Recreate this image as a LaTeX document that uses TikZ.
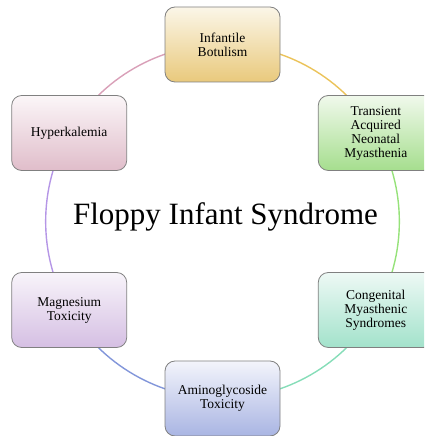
\documentclass[tikz,border=0pt]{standalone}
\usepackage{fontspec}
\setmainfont{Liberation Serif}
\usepackage{tikz}
\usetikzlibrary{calc,backgrounds}
\usepackage{xcolor}
\definecolor{botTop}{HTML}{FBF6E8}
\definecolor{botBot}{HTML}{E9C97C}
\definecolor{tranTop}{HTML}{F0F9EC}
\definecolor{tranBot}{HTML}{A6DE8E}
\definecolor{hypTop}{HTML}{FBF6F8}
\definecolor{hypBot}{HTML}{E0BDCA}
\definecolor{conTop}{HTML}{EEF9F5}
\definecolor{conBot}{HTML}{A2E2CB}
\definecolor{magTop}{HTML}{F8F4FA}
\definecolor{magBot}{HTML}{D5BFE3}
\definecolor{amiTop}{HTML}{F3F4FB}
\definecolor{amiBot}{HTML}{A9B5E3}
\definecolor{arcPink}{HTML}{D9A0B8}
\definecolor{arcGold}{HTML}{EBC35A}
\definecolor{arcGreen}{HTML}{96E27A}
\definecolor{arcMint}{HTML}{86DDB8}
\definecolor{arcBlue}{HTML}{8296DA}
\definecolor{arcPurple}{HTML}{B596E6}

\begin{document}
\begin{tikzpicture}[
  x=1pt,y=1pt,
  every node/.style={font=\fontsize{13.5}{14}\selectfont},
  frame/.style={draw=black!50,line width=0.8pt,line join=round,line cap=round,rounded corners=10pt,minimum width=115pt,minimum height=75pt,align=center,inner sep=2pt},
  goldbox/.style={frame,top color=botTop,bottom color=botBot},
  greenbox/.style={frame,top color=tranTop,bottom color=tranBot},
  pinkbox/.style={frame,top color=hypTop,bottom color=hypBot},
  mintbox/.style={frame,top color=conTop,bottom color=conBot},
  purplebox/.style={frame,top color=magTop,bottom color=magBot},
  bluebox/.style={frame,top color=amiTop,bottom color=amiBot},
  ring/.style={line width=1.4pt,looseness=0.91},
]
\clip (0,0) rectangle (424,436);
\coordinate (mid) at (222.5,214.5);

\node[goldbox] (botulism) at ($(mid)+(90:177)$) {Infantile\\Botulism};
\node[greenbox] (transient) at ($(mid)+(30:177)$) {Transient\\Acquired\\Neonatal\\Myasthenia};
\node[mintbox] (congenital) at ($(mid)+(-30:177)$) {Congenital\\Myasthenic\\Syndromes};
\node[bluebox] (amino) at ($(mid)+(-90:177)$) {Aminoglycoside\\Toxicity};
\node[purplebox] (magnesium) at ($(mid)+(210:177)$) {Magnesium\\Toxicity};
\node[pinkbox] (hyper) at ($(mid)+(150:177)$) {Hyperkalemia};

\node[font=\fontsize{31}{34}\selectfont,anchor=base] (title) at (225.5,211) {Floppy Infant Syndrome};

% ring segments, behind the boxes
\begin{scope}[on background layer]
\draw[ring,draw=arcGold] (transient.center) to[out=120,in=0] (botulism.center);
\draw[ring,draw=arcPink] (botulism.center) to[out=180,in=60] (hyper.center);
\draw[ring,draw=arcPurple] (hyper.center) to[out=240,in=120] (magnesium.center);
\draw[ring,draw=arcBlue] (magnesium.center) to[out=300,in=180] (amino.center);
\draw[ring,draw=arcMint] (amino.center) to[out=0,in=240] (congenital.center);
\draw[ring,draw=arcGreen] (congenital.center) to[out=60,in=300] (transient.center);
\end{scope}
\end{tikzpicture}
\end{document}
